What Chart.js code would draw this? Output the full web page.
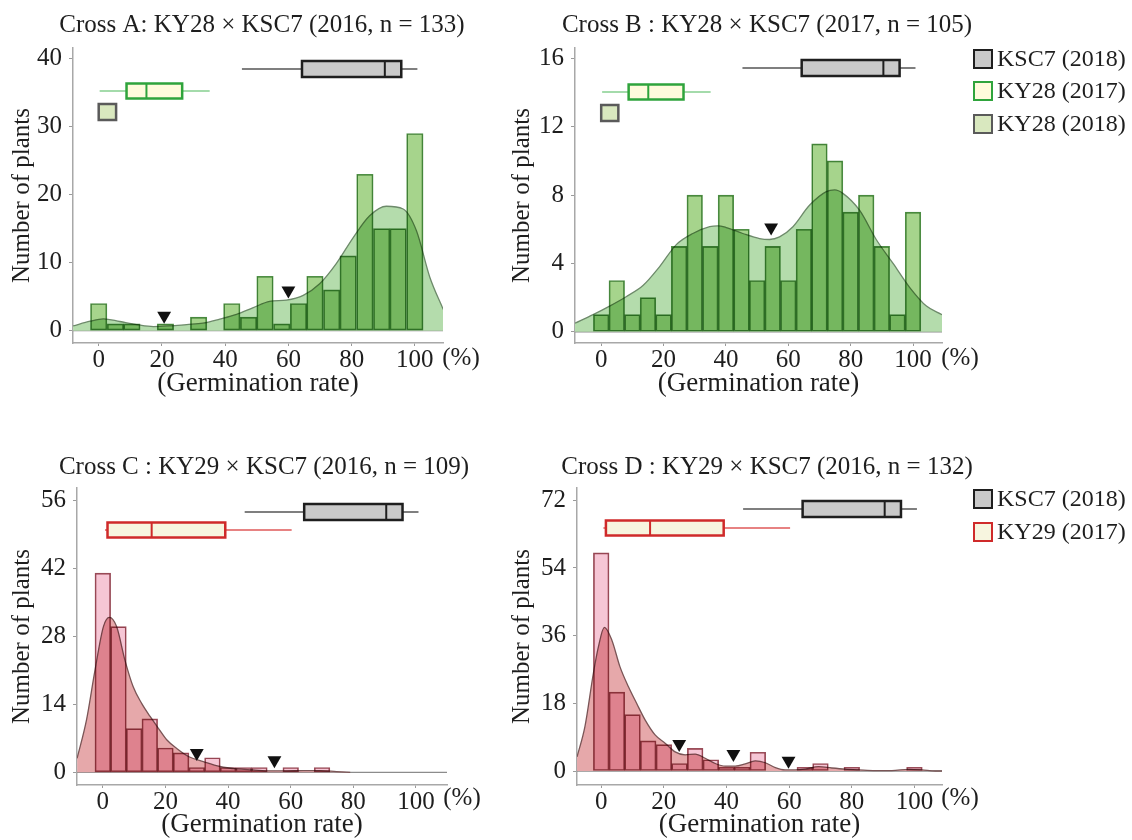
<!DOCTYPE html>
<html>
<head>
<meta charset="utf-8">
<script src="https://cdn.jsdelivr.net/npm/chart.js@4.4.1/dist/chart.umd.min.js"></script>
<style>
body { margin: 0; background: #fff; font-family: "Liberation Serif", "Times New Roman", serif; }
#wrap { position: relative; width: 1132px; height: 840px; overflow: hidden; background: #fff; }
#wrap canvas { position: absolute; }
.item { position: absolute; white-space: nowrap; font-size: 24px; line-height: 24px; color: #1e1e1e; }
.sw { display: inline-block; width: 16px; height: 16px; border: 2px solid #222; vertical-align: -3px; margin-right: 4px; }
</style>
</head>
<body>
<div id="wrap">
  <canvas id="chartA" width="500" height="410" style="left:0;top:0"></canvas>
  <canvas id="chartB" width="632" height="410" style="left:500px;top:0"></canvas>
  <canvas id="chartC" width="500" height="400" style="left:0;top:440px"></canvas>
  <canvas id="chartD" width="632" height="400" style="left:500px;top:440px"></canvas>

  <div class="item" style="left:973px;top:46px"><span class="sw" style="background:#c9c9c9;border-color:#1e1e1e"></span>KSC7 (2018)</div>
  <div class="item" style="left:973px;top:78px"><span class="sw" style="background:#fffbdc;border-color:#2fa43c"></span>KY28 (2017)</div>
  <div class="item" style="left:973px;top:111px"><span class="sw" style="background:#d9e8bf;border-color:#5a5a5a"></span>KY28 (2018)</div>

  <div class="item" style="left:973px;top:486px"><span class="sw" style="background:#c9c9c9;border-color:#1e1e1e"></span>KSC7 (2018)</div>
  <div class="item" style="left:973px;top:519px"><span class="sw" style="background:#f7f5df;border-color:#cf2a2a"></span>KY29 (2017)</div>
</div>

<script>
// germination rate (%) ticks shared by all panels
const tickX = [0, 20, 40, 60, 80, 100];

// Cross A
const binsA = [0, 5.3, 10.5, 15.8, 21.1, 26.3, 31.6, 36.8, 42.1, 47.4, 52.6, 57.9, 63.2, 68.4, 73.7, 78.9, 84.2, 89.5, 94.7, 100];
const countsA = [4, 1, 1, 0, 1, 0, 2, 0, 4, 2, 8, 1, 4, 8, 6, 11, 23, 15, 15, 29];
const densXA = [-8.1, -2.7, 1.5, 6.7, 12, 17.3, 22.5, 27.8, 33, 38.3, 43.6, 48.9, 54.1, 59.4, 64.7, 69.9, 75.2, 80.5, 85.7, 91, 96.3, 100.5, 104.7, 109];
const densYA = [0.7, 1.4, 1.75, 1.35, 0.9, 0.6, 0.7, 0.9, 1.1, 1.7, 2.4, 3.4, 4.3, 4.5, 5.2, 6.9, 9.9, 13.7, 16.9, 18.3, 17.9, 14.7, 7.9, 3.1];
const cutXA = [20.7, 60];
const cutYA = [2.2, 5.9];
const ticksYA = [0, 10, 20, 30, 40];

// Cross B
const binsB = [0, 5, 10, 15, 20, 25, 30, 35, 40, 45, 50, 55, 60, 65, 70, 75, 80, 85, 90, 95, 100];
const countsB = [1, 3, 1, 2, 1, 5, 8, 5, 8, 6, 3, 5, 3, 6, 11, 10, 7, 8, 5, 1, 7];
const densXB = [-8.4, -2.6, 2.7, 8, 13.4, 18.7, 24.1, 29.4, 34.8, 37.4, 40.1, 45.4, 50.8, 54, 57.2, 61.5, 66.8, 72.2, 74.9, 77.5, 82.9, 88.2, 93.6, 98.9, 104.3, 109.3];
const densYB = [0.5, 1.0, 1.5, 2.05, 2.7, 3.8, 5.1, 5.75, 6.15, 6.2, 6.1, 5.75, 5.45, 5.4, 5.55, 6.15, 7.4, 8.2, 8.3, 8.1, 7.1, 5.4, 4.0, 2.6, 1.5, 1.0];
const cutXB = [54.5];
const cutYB = [6.1];
const ticksYB = [0, 4, 8, 12, 16];

// Cross C
const binsC = [0, 5, 10, 15, 20, 25, 30, 35, 40, 45, 50, 55, 60, 65, 70, 75, 80, 85, 90, 95, 100];
const countsC = [41, 30, 9, 11, 5, 4, 1, 3, 1, 1, 1, 0, 1, 0, 1, 0, 0, 0, 0, 0, 0];
const densXC = [-8.2, -5.2, -2.5, 0.2, 2.1, 4.4, 7.1, 9.7, 12.4, 15.1, 17.7, 20.4, 23.6, 27.5, 32.1, 37.4, 42.7, 48, 53.4, 58.7, 64, 69.3, 74.6, 79];
const densYC = [2.9, 10.8, 21, 30, 31.9, 30, 23, 17.6, 14.2, 11.5, 9.1, 6.7, 4.9, 3.2, 2.2, 1.2, 0.7, 0.5, 0.3, 0.3, 0.35, 0.35, 0.15, 0];
const cutXC = [30, 54.8];
const cutYC = [4.0, 2.5];
const ticksYC = [0, 14, 28, 42, 56];

// Cross D
const binsD = [0, 5, 10, 15, 20, 25, 30, 35, 40, 45, 50, 55, 60, 65, 70, 75, 80, 85, 90, 95, 100];
const countsD = [58, 21, 15, 8, 7, 2, 6, 3, 1, 1, 5, 0, 0, 1, 2, 0, 1, 0, 0, 0, 1];
const densXD = [-7.7, -5.2, -2.5, -0.9, 1, 3.4, 6, 8.7, 11.3, 14, 17.2, 20.4, 23.6, 26.8, 30, 33.2, 36.4, 39.6, 42.8, 46, 49.2, 52.4, 55.6, 58.7, 61.9, 65.1, 69.4, 73.6, 77.9, 82.2, 87.5, 92.8, 98.1, 102.4, 106.7, 108.8];
const densYD = [3.8, 11.8, 26, 33, 38.2, 34.8, 27.7, 22.4, 18, 13.6, 9.6, 7.4, 5.1, 4.3, 4.5, 3.4, 2.0, 1.3, 1.3, 1.9, 2.7, 2.2, 0.9, 0.3, 0.3, 0.5, 1.15, 0.8, 0.5, 0.3, 0.1, 0.1, 0.45, 0.3, 0, 0];
const cutXD = [24.9, 42.2, 59.8];
const cutYD = [7.2, 4.5, 2.7];
const ticksYD = [0, 18, 36, 54, 72];

// parent box plots: whisker low, q1, median, q3, whisker high (%)
const boxKSC7 = [45.3, 64.3, 90.5, 95.7, 100.8];
const boxKY28y2017 = [0.3, 8.8, 15.1, 26.4, 35.1];
const boxKY28y2018 = [0, 0, null, 5.5, 5.5];
const boxKY29y2017 = [0.7, 1.5, 15.6, 39.1, 60.3];

const serif = "'Liberation Serif', 'Times New Roman', serif";
Chart.defaults.font.family = serif;
Chart.defaults.color = "#1e1e1e";
Chart.defaults.animation = false;
Chart.defaults.plugins.legend.display = false;
Chart.defaults.plugins.tooltip.enabled = false;

const green = { bar: "#a6d48c", edge: "#4f8f46", fill: "#b4dcac", line: "#6d8a6a", edgeWidth: 1 };
const red = { bar: "#f6c6d5", edge: "#9a4e5a", fill: "#e6a8aa", line: "#7a5556", edgeWidth: 1 };

const styleKSC7 = { fill: "#c9c9c9", edge: "#1e1e1e", whisker: "#555", h: 16 };
const styleKY28a = { fill: "#fffbdc", edge: "#2fa43c", whisker: "#86cf90", h: 15 };
const styleKY28b = { fill: "#d9e8bf", edge: "#5a5a5a", whisker: "#5a5a5a", h: 16 };
const styleKY29 = { fill: "#f7f5df", edge: "#cf2a2a", whisker: "#df5a5a", h: 15 };

function drawBox(ctx, xs, y, stats, st) {
    const px = stats.map(v => v === null ? null : xs.getPixelForValue(v));
    ctx.save();
    ctx.strokeStyle = st.whisker;
    ctx.lineWidth = 1.5;
    ctx.beginPath();
    ctx.moveTo(px[0], y); ctx.lineTo(px[1], y);
    ctx.moveTo(px[3], y); ctx.lineTo(px[4], y);
    ctx.stroke();
    ctx.fillStyle = st.fill;
    ctx.fillRect(px[1], y - st.h / 2, px[3] - px[1], st.h);
    ctx.strokeStyle = st.edge;
    ctx.lineWidth = 2.5;
    ctx.strokeRect(px[1], y - st.h / 2, px[3] - px[1], st.h);
    if (px[2] !== null) {
        ctx.lineWidth = 2;
        ctx.beginPath();
        ctx.moveTo(px[2], y - st.h / 2); ctx.lineTo(px[2], y + st.h / 2);
        ctx.stroke();
    }
    ctx.restore();
}

// histogram bars are multiplied over the density fill, so the overlap turns darker
const multiplyBars = {
    id: "multiplyBars",
    beforeDatasetDraw(chart, args) {
        if (args.meta.type === "bar") {
            chart.ctx.save();
            chart.ctx.globalCompositeOperation = "multiply";
        }
    },
    afterDatasetDraw(chart, args) {
        if (args.meta.type === "bar") chart.ctx.restore();
    }
};

function makePanel(id, p) {
    const decor = {
        id: "decor" + id,
        beforeDatasetsDraw(chart) {
            const ctx = chart.ctx, a = chart.chartArea;
            const y0 = chart.scales.y.getPixelForValue(0);
            ctx.save();
            ctx.strokeStyle = "#8c8c8c";
            ctx.lineWidth = 1.3;
            ctx.beginPath();
            ctx.moveTo(a.left, y0); ctx.lineTo(a.right, y0);
            ctx.stroke();
            ctx.restore();
        },
        afterDraw(chart) {
            const ctx = chart.ctx, a = chart.chartArea;
            ctx.save();
            ctx.fillStyle = "#1e1e1e";
            ctx.font = "25px " + serif;
            ctx.textAlign = "center";
            ctx.textBaseline = "middle";
            ctx.fillText(p.title, p.titleX, p.titleY);
            ctx.fillText("(%)", p.pctX, a.bottom + p.pctDy);
            ctx.restore();
            p.boxes.forEach((b, i) => drawBox(ctx, chart.scales.x, a.top + p.boxRows[i], b.stats, b.style));
        }
    };

    return new Chart(document.getElementById(id), {
        data: {
            datasets: [
                {
                    type: "scatter",
                    data: p.cutX.map((x, i) => ({ x: x, y: p.cutY[i] })),
                    pointStyle: "triangle",
                    rotation: 180,
                    pointRadius: 8,
                    backgroundColor: "#111",
                    borderColor: "#111",
                    borderWidth: 0,
                    order: 0
                },
                {
                    type: "bar",
                    data: p.bins.map((x, i) => ({ x: x, y: p.counts[i] })),
                    backgroundColor: p.colors.bar,
                    borderColor: p.colors.edge,
                    borderWidth: p.colors.edgeWidth,
                    borderSkipped: false,
                    barPercentage: 1,
                    categoryPercentage: 1,
                    order: 1
                },
                {
                    type: "line",
                    data: p.densX.map((x, i) => ({ x: x, y: p.densY[i] })),
                    fill: "origin",
                    backgroundColor: p.colors.fill,
                    borderColor: p.colors.line,
                    borderWidth: 1.3,
                    pointRadius: 0,
                    cubicInterpolationMode: "monotone",
                    order: 2
                }
            ]
        },
        options: {
            responsive: false,
            devicePixelRatio: 1,
            layout: { padding: p.pad },
            scales: {
                x: {
                    type: "linear",
                    offset: false,
                    min: p.xMin,
                    max: p.xMax,
                    afterBuildTicks: s => { s.ticks = tickX.map(v => ({ value: v })); },
                    afterFit: s => { s.height = p.xHeight; },
                    grid: { offset: false, drawOnChartArea: false, tickLength: 3, color: "#9a9a9a" },
                    border: { color: "#a8a8a8", width: 1.5 },
                    ticks: { font: { size: 25 }, color: "#1e1e1e", padding: -1, maxRotation: 0, autoSkip: false },
                    title: { display: true, text: "(Germination rate)", color: "#1e1e1e",
                        font: { size: 27, lineHeight: 1 }, padding: { top: 0, bottom: p.xTitlePad } }
                },
                y: {
                    type: "linear",
                    min: p.yMin,
                    max: p.yMax,
                    afterBuildTicks: s => { s.ticks = p.ticksY.map(v => ({ value: v })); },
                    afterFit: s => { s.width = p.yWidth; },
                    grid: { drawOnChartArea: false, tickLength: 4, color: "#9a9a9a" },
                    border: { color: "#a8a8a8", width: 1.5 },
                    ticks: { font: { size: 25 }, color: "#1e1e1e", padding: 7 },
                    title: { display: true, text: "Number of plants", color: "#1e1e1e",
                        font: { size: 25, lineHeight: 1 }, padding: { top: 10, bottom: 0 } }
                }
            }
        },
        plugins: [multiplyBars, decor]
    });
}

makePanel("chartA", {
    title: "Cross A: KY28 \u00d7 KSC7 (2016, n = 133)", titleX: 262, titleY: 25,
    bins: binsA, counts: countsA, densX: densXA, densY: densYA, cutX: cutXA, cutY: cutYA,
    ticksY: ticksYA, colors: green,
    xMin: -8.13, xMax: 108.9, yMin: -1.81, yMax: 41.57,
    pad: { left: 0, top: 48, right: 57, bottom: 7 }, yWidth: 73, xHeight: 60, xTitlePad: 5.5,
    pctX: 461, pctDy: 15,
    boxRows: [21, 43, 64],
    boxes: [{ stats: boxKSC7, style: styleKSC7 }, { stats: boxKY28y2017, style: styleKY28a }, { stats: boxKY28y2018, style: styleKY28b }]
});

makePanel("chartB", {
    title: "Cross B : KY28 \u00d7 KSC7 (2017, n = 105)", titleX: 267, titleY: 25,
    bins: binsB, counts: countsB, densX: densXB, densY: densYB, cutX: cutXB, cutY: cutYB,
    ticksY: ticksYB, colors: green,
    xMin: -8.4, xMax: 109.3, yMin: -0.66, yMax: 16.61,
    pad: { left: 0, top: 48, right: 190, bottom: 7 }, yWidth: 75, xHeight: 60, xTitlePad: 5.5,
    pctX: 460, pctDy: 15,
    boxRows: [20, 44, 65],
    boxes: [{ stats: boxKSC7, style: styleKSC7 }, { stats: boxKY28y2017, style: styleKY28a }, { stats: boxKY28y2018, style: styleKY28b }]
});

makePanel("chartC", {
    title: "Cross C : KY29 \u00d7 KSC7 (2016, n = 109)", titleX: 264, titleY: 27,
    bins: binsC, counts: countsC, densX: densXC, densY: densYC, cutX: cutXC, cutY: cutYC,
    ticksY: ticksYC, colors: red,
    xMin: -8.24, xMax: 109.9, yMin: -2.61, yMax: 58.53,
    pad: { left: 0, top: 48, right: 53, bottom: 0 }, yWidth: 77, xHeight: 55, xTitlePad: 1.5,
    pctX: 462, pctDy: 13,
    boxRows: [24, 42],
    boxes: [{ stats: boxKSC7, style: styleKSC7 }, { stats: boxKY29y2017, style: styleKY29 }]
});

makePanel("chartD", {
    title: "Cross D : KY29 \u00d7 KSC7 (2016, n = 132)", titleX: 267, titleY: 27,
    bins: binsD, counts: countsD, densX: densXD, densY: densYD, cutX: cutXD, cutY: cutYD,
    ticksY: ticksYD, colors: red,
    xMin: -7.73, xMax: 108.8, yMin: -3.72, yMax: 75.27,
    pad: { left: 0, top: 48, right: 190, bottom: 0 }, yWidth: 77, xHeight: 55, xTitlePad: 1.5,
    pctX: 460, pctDy: 13,
    boxRows: [21, 40],
    boxes: [{ stats: boxKSC7, style: styleKSC7 }, { stats: boxKY29y2017, style: styleKY29 }]
});
</script>
</body>
</html>
